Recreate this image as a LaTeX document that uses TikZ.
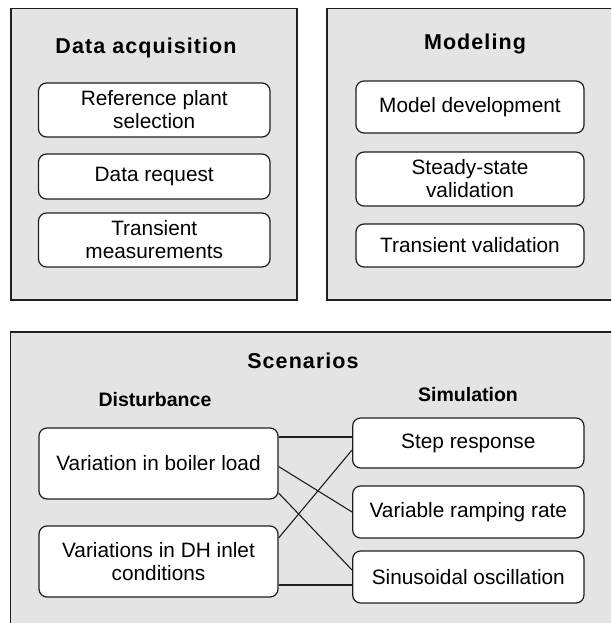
\documentclass[tikz,border=0pt]{standalone}
\usepackage{fontspec}
\setmainfont{Liberation Sans}
\newfontfamily\ttlfont[LetterSpace=5]{Liberation Sans}
\usetikzlibrary{calc}
\definecolor{panelfill}{HTML}{E4E4E4}
\definecolor{edge}{HTML}{1E1E1E}
\tikzset{
  panel/.style={draw=edge, fill=panelfill, line width=1.3pt},
  item/.style={draw=edge, fill=white, line width=1.2pt, rounded corners=8pt,
    align=center, inner sep=0pt, font=\fontsize{20.8}{23}\selectfont},
  ttl/.style={font=\ttlfont\bfseries\fontsize{21.5}{24}\selectfont, anchor=base, inner sep=0pt},
  sub/.style={font=\bfseries\fontsize{19.5}{23}\selectfont, anchor=base, inner sep=0pt},
  link/.style={draw=edge, line width=1.1pt}
}
\begin{document}
\begin{tikzpicture}[x=1pt,y=1pt]
\useasboundingbox (0,0) rectangle (611,-623);
\clip (0,0) rectangle (611,-623);
% panels
\path[panel] (11,-8.7) rectangle (297,-300);
\path[panel] (327,-8.7) rectangle (616,-300);
\path[panel] (10.5,-332) rectangle (616,-630);
% titles
\node[ttl] (tA) at (146,-54) {Data acquisition};
\node[ttl] (tM) at (475,-49.3) {Modeling};
\node[ttl] (tS) at (303,-368.3) {Scenarios};
\node[sub] (tD) at (155,-406) {Disturbance};
\node[sub] (tSim) at (468,-401.7) {Simulation};
% data acquisition
\node[item, minimum width=231.5pt, minimum height=54pt] (A1) at (154.25,-110) {Reference plant\\selection};
\node[item, minimum width=231.5pt, minimum height=45pt] (A2) at (154.25,-176.5) {Data request};
\node[item, minimum width=231.5pt, minimum height=54pt] (A3) at (154.25,-240) {Transient\\measurements};
% modeling
\node[item, minimum width=228pt, minimum height=52pt] (M1) at (470,-107) {Model development};
\node[item, minimum width=228pt, minimum height=54pt] (M2) at (470,-179) {Steady-state\\validation};
\node[item, minimum width=228pt, minimum height=43pt] (M3) at (470,-245.5) {Transient validation};
% scenarios
\node[item, minimum width=239pt, minimum height=71pt] (D1) at (158.5,-463.5) {Variation in boiler load};
\node[item, minimum width=239pt, minimum height=71pt] (D2) at (158.5,-561.5) {Variations in DH inlet\\conditions};
\node[item, minimum width=231.3pt, minimum height=50pt] (S1) at (468.3,-443) {Step response};
\node[item, minimum width=231.3pt, minimum height=52pt] (S2) at (468.3,-512) {Variable ramping rate};
\node[item, minimum width=231.3pt, minimum height=52pt] (S3) at (468.3,-577) {Sinusoidal oscillation};
% connectors
\draw[link] ([yshift=26.5pt]D1.east) -- ([yshift=6pt]S1.west);
\draw[link] ([yshift=-3pt]D1.east) -- (S2.west);
\draw[link] ([yshift=-29.5pt]D1.east) -- ([yshift=7pt]S3.west);
\draw[link] ([yshift=23.5pt]D2.east) -- ([yshift=-7pt]S1.west);
\draw[link] ([yshift=-23.5pt]D2.east) -- ([yshift=-8pt]S3.west);
\end{tikzpicture}
\end{document}
